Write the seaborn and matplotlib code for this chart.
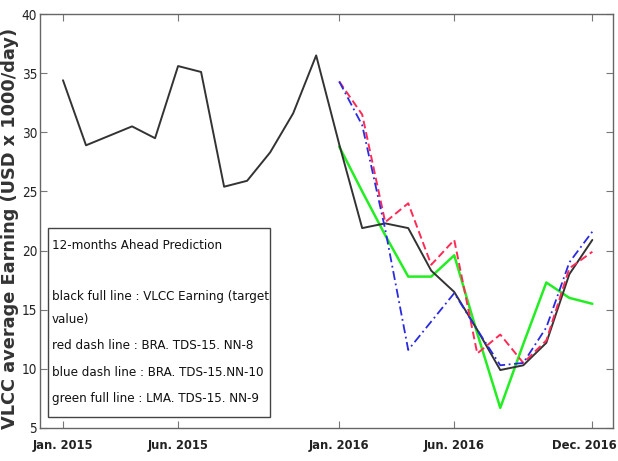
import matplotlib
matplotlib.use("Agg")
import matplotlib.pyplot as plt
from matplotlib import font_manager
from matplotlib.transforms import ScaledTranslation
import seaborn as sns
import pandas as pd

# ---- data ----
months_actual = list(range(24))
actual = [34.4, 28.9, 29.7, 30.5, 29.5, 35.6, 35.1, 25.4, 25.9, 28.3, 31.6, 36.5,
          29.0, 21.9, 22.3, 21.9, 18.3, 16.5, 13.3, 9.9, 10.3, 12.2, 18.0, 20.9]
months_pred = list(range(12, 24))
red_bra_nn8 = [34.3, 31.5, 22.4, 24.0, 18.8, 20.9, 11.3, 12.9, 10.5, 12.4, 18.5, 19.9]
blue_bra_nn10 = [34.3, 30.6, 21.8, 11.6, 14.0, 16.4, 13.3, 10.3, 10.5, 13.5, 19.0, 21.6]
green_lma_nn9 = [28.8, 25.0, 21.3, 17.8, 17.8, 19.6, 13.0, 6.7, 12.1, 17.3, 16.0, 15.5]

tick_months = [0, 5, 12, 17, 23]
tick_labels = ["Jan. 2015", "Jun. 2015", "Jan. 2016", "Jun. 2016", "Dec. 2016"]
y_ticks = [5, 10, 15, 20, 25, 30, 35, 40]

legend_lines = [
    "12-months Ahead Prediction",
    "",
    "black full line : VLCC Earning (target",
    "value)",
    "red dash line : BRA. TDS-15. NN-8",
    "blue dash line : BRA. TDS-15.NN-10",
    "green full line : LMA. TDS-15. NN-9",
]

sns.set_style("white")

# choose a narrow font if one is installed
names = {f.name for f in font_manager.fontManager.ttflist}
dv_cond = any(f.name == "DejaVu Sans" and f.stretch == "condensed" for f in font_manager.fontManager.ttflist)
if "Liberation Sans Narrow" in names:
    NF = dict(family=["Liberation Sans Narrow", "DejaVu Sans"])
    scale = 1.0
elif dv_cond:
    NF = dict(family=["DejaVu Sans"], fontstretch="condensed")
    scale = 0.93
else:
    NF = dict(family=["Liberation Sans", "DejaVu Sans"])
    scale = 0.85

fig = plt.figure(figsize=(6.18, 4.61), dpi=100)
ax = fig.add_axes([0.0647, 0.0716, 0.9273, 0.898])

df_a = pd.DataFrame({"m": months_actual, "v": actual})
df_r = pd.DataFrame({"m": months_pred, "v": red_bra_nn8})
df_b = pd.DataFrame({"m": months_pred, "v": blue_bra_nn10})
df_g = pd.DataFrame({"m": months_pred, "v": green_lma_nn9})

sns.lineplot(data=df_g, x="m", y="v", ax=ax, color="#22ee22", lw=1.8)
sns.lineplot(data=df_a, x="m", y="v", ax=ax, color="#333333", lw=1.4)
sns.lineplot(data=df_r, x="m", y="v", ax=ax, color="#ff2a55", lw=1.4, linestyle=(0, (4, 2)))
sns.lineplot(data=df_b, x="m", y="v", ax=ax, color="#2a2ae0", lw=1.3, linestyle=(0, (5, 2, 1, 2)))

ax.set_xlim(-1, 23.9)
ax.set_ylim(5, 40)
ax.set_xticks(tick_months)
ax.set_xticklabels(tick_labels, fontsize=10 * scale, fontweight="bold", color="#222222", **NF)
ax.set_yticks(y_ticks)
ax.set_yticklabels([str(t) for t in y_ticks], fontsize=10.5 * scale, color="#222222", **NF)
ax.tick_params(axis="both", direction="in", length=5, color="#777777", top=True, right=True,
               bottom=True, left=True, labeltop=False, labelright=False)
ax.tick_params(axis="x", pad=8)
ax.tick_params(axis="y", pad=2)
# nudge last label so it stays inside the picture
last = ax.get_xticklabels()[-1]
last.set_transform(last.get_transform() + ScaledTranslation(-8 / 100, 0, fig.dpi_scale_trans))
for s in ax.spines.values():
    s.set_color("#666666")
    s.set_linewidth(1.0)
ax.set_xlabel("")
ax.set_ylabel("VLCC average Earning (USD x 1000/day)", family="DejaVu Sans", fontweight="bold",
              fontsize=12.8, color="#333333")
ax.yaxis.set_label_coords(-0.037, 0.483)

# legend-like text box
from matplotlib.patches import Rectangle
box = Rectangle((48 / 618, 1 - 417 / 461), (270 - 48) / 618, (417 - 228) / 461,
                transform=fig.transFigure, fill=True, facecolor="white",
                edgecolor="#444444", lw=1.0, zorder=5)
fig.patches.append(box)
ys = [245, 270, 296, 320, 345, 372, 398]
for t, y in zip(legend_lines, ys):
    if t:
        fig.text(52 / 618, 1 - y / 461, t, fontsize=10.3 * scale, color="#111111",
                 va="center", ha="left", zorder=6, **NF)

fig.savefig("out.png", dpi=100)
